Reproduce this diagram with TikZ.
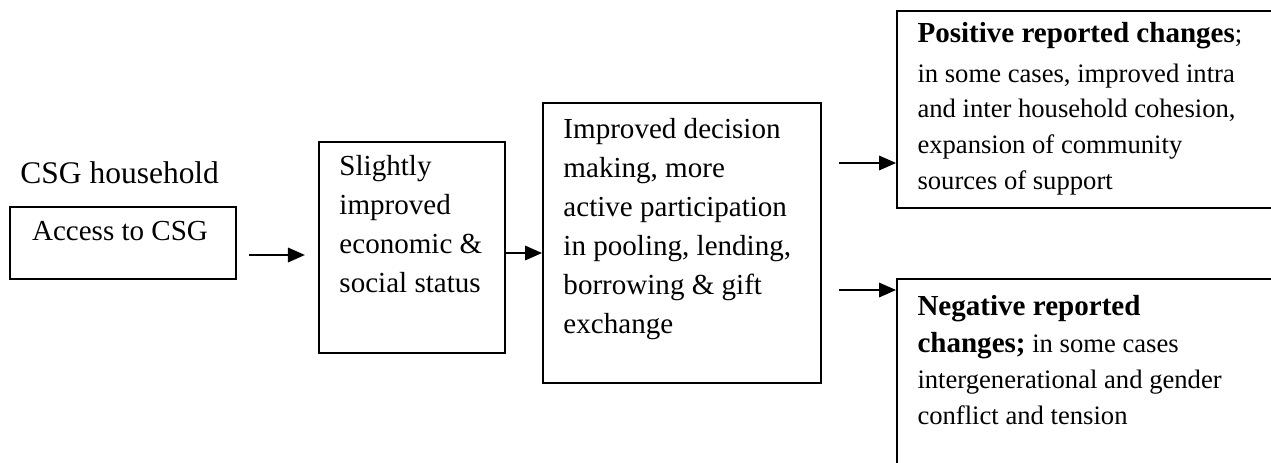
\documentclass[tikz,border=0pt]{standalone}
\usepackage{fontspec}
\setmainfont{Liberation Serif}
\usetikzlibrary{arrows.meta}
\tikzset{
  >={Triangle[length=7pt,width=6pt]},
  box/.style={draw,line width=.75pt,inner sep=0pt,anchor=north west},
  txt/.style={inner sep=0pt,anchor=north west,align=left,font=\fontsize{12}{16.1}\selectfont},
  smalltxt/.style={txt,font=\fontsize{11}{14.8}\selectfont},
  flow/.style={->,line width=.7pt},
}

\begin{document}
\begin{tikzpicture}[x=.413pt,y=-.413pt]
  \useasboundingbox (0,0) rectangle (1271,462);
  \clip (0,0) rectangle (1271,462);

  % household and its grant
  \node[txt,font=\fontsize{13}{16}\selectfont] (household) at (20,161.5) {CSG household};
  \node[box,minimum width=93.3pt,minimum height=29.7pt] (access) at (9,206) {};
  \node[txt,anchor=north] (accesstxt) at (120,220.4) {Access to CSG};

  \node[box,minimum width=76.8pt,minimum height=87.1pt] (slight) at (318,141) {};
  \node[txt] (slighttxt) at (339,155) {Slightly\\improved\\economic \&\\social status};

  \node[box,minimum width=114.8pt,minimum height=115.6pt] (decide) at (542,102) {};
  \node[txt] (decidetxt) at (563,118)
    {Improved decision\\making, more\\active participation\\in pooling, lending,\\borrowing \& gift\\exchange};

  % outcomes, cut by the page edge
  \node[box,minimum width=166.9pt,minimum height=81.4pt] (pos) at (896,10) {};
  \node[smalltxt] (postxt) at (917,22)
    {{\fontsize{12}{14.8}\selectfont\bfseries Positive reported changes};\\[1.5pt]
     in some cases, improved intra\\and inter household cohesion,\\expansion of community\\sources of support};

  \node[box,minimum width=166.9pt,minimum height=91.7pt] (neg) at (896,278) {};
  \node[smalltxt] (negtxt) at (917,295)
    {{\fontsize{12}{14.8}\selectfont\bfseries Negative reported}\\[.5pt]
     {\fontsize{12}{14.8}\selectfont\bfseries changes;} in some cases\\intergenerational and gender\\conflict and tension};

  \coordinate (r1) at (0,255);
  \coordinate (r2) at (0,253);
  \coordinate (r3) at (0,163);
  \coordinate (r4) at (0,290);
  \draw[flow,shorten <=5pt,shorten >=5.4pt] (access.east |- r1) -- (slight.west |- r1);
  \draw[flow] (slight.east |- r2) -- (decide.west |- r2);
  \draw[flow,shorten <=7pt] (decide.east |- r3) -- (pos.west |- r3);
  \draw[flow,shorten <=7pt] (decide.east |- r4) -- (neg.west |- r4);
\end{tikzpicture}
\end{document}
